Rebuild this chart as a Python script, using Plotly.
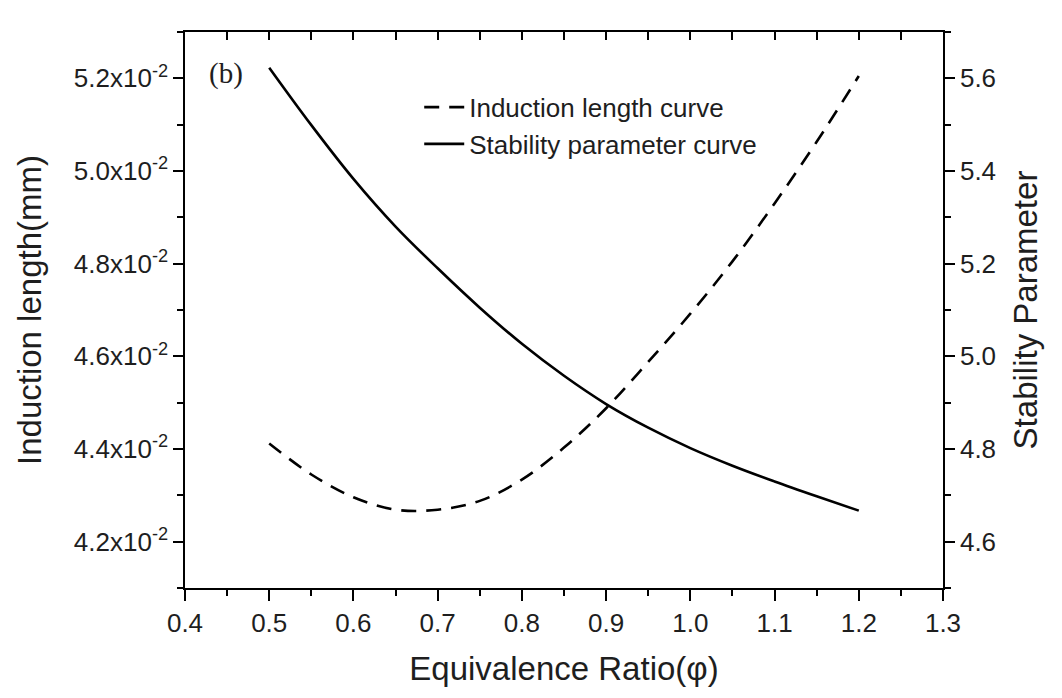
import plotly.graph_objects as go

# ---- data ----
phi = [0.50, 0.55, 0.60, 0.65, 0.70, 0.75, 0.80, 0.85, 0.90, 0.95, 1.00, 1.05, 1.10, 1.15, 1.20]
induction_length = [0.04412, 0.04345, 0.04296, 0.04269, 0.04269, 0.04288, 0.04334, 0.04403,
                    0.04488, 0.04588, 0.04692, 0.04805, 0.04930, 0.05063, 0.05205]
stability_param = [5.623, 5.499, 5.383, 5.280, 5.190, 5.105, 5.027, 4.958,
                   4.897, 4.846, 4.802, 4.764, 4.730, 4.698, 4.667]

left_tickvals = [0.042, 0.044, 0.046, 0.048, 0.050, 0.052]
left_ticktext = ["4.2x10<sup>-2</sup>", "4.4x10<sup>-2</sup>", "4.6x10<sup>-2</sup>",
                 "4.8x10<sup>-2</sup>", "5.0x10<sup>-2</sup>", "5.2x10<sup>-2</sup>"]

FONT = "Liberation Sans, Arial, sans-serif"
TXT = "#1e1e1e"

fig = go.Figure()
fig.add_trace(go.Scatter(
    x=phi, y=induction_length, mode="lines", name="Induction length curve",
    line=dict(color="black", width=2.6, dash="15px,10px", shape="spline", smoothing=1.0), yaxis="y"))
fig.add_trace(go.Scatter(
    x=phi, y=stability_param, mode="lines", name="Stability parameter curve",
    line=dict(color="black", width=2.6, shape="spline", smoothing=1.0), yaxis="y2"))
# invisible trace to register the top (mirror) axis
fig.add_trace(go.Scatter(
    x=phi, y=induction_length, mode="lines", xaxis="x2", yaxis="y",
    line=dict(width=0), opacity=0, showlegend=False, hoverinfo="skip"))

axis_common = dict(showline=True, linecolor="black", linewidth=1.5, showgrid=False,
                   zeroline=False, tickcolor="black", tickwidth=1.5, automargin=False,
                   tickfont=dict(family=FONT, size=26, color=TXT))

# the page body adds an 8px offset, so the figure is made 8px smaller on each side
fig.update_layout(
    width=1054, height=690,
    margin=dict(l=177, r=119, t=24, b=110),
    paper_bgcolor="white", plot_bgcolor="white",
    font=dict(family=FONT, color=TXT),
    xaxis=dict(range=[0.4, 1.3], tickmode="linear", tick0=0.4, dtick=0.1, tickformat=".1f",
               ticks="outside", ticklen=11,
               minor=dict(ticks="outside", ticklen=6, tick0=0.4, dtick=0.05, tickcolor="black", tickwidth=1.5),
               title=dict(text="Equivalence Ratio(φ)", font=dict(family=FONT, size=33, color=TXT), standoff=20),
               **axis_common),
    xaxis2=dict(range=[0.4, 1.3], overlaying="x", side="top", tickmode="linear", tick0=0.4, dtick=0.1,
                ticks="inside", ticklen=8, showticklabels=False, automargin=False,
                minor=dict(ticks="inside", ticklen=8, tick0=0.4, dtick=0.05, tickcolor="black", tickwidth=1.5),
                showline=True, linecolor="black", linewidth=1.5, showgrid=False, zeroline=False,
                tickcolor="black", tickwidth=1.5),
    yaxis=dict(range=[0.041, 0.053], tickmode="array", tickvals=left_tickvals, ticktext=left_ticktext,
               ticks="outside", ticklen=10,
               minor=dict(ticks="outside", ticklen=6, tickmode="linear", tick0=0.041, dtick=0.001,
                          tickcolor="black", tickwidth=1.5),
               title=dict(text="Induction length(mm)", font=dict(family=FONT, size=33, color=TXT), standoff=22),
               **axis_common),
    yaxis2=dict(range=[4.5, 5.7], overlaying="y", side="right", tickmode="linear", tick0=4.6, dtick=0.2,
                tickformat=".1f", ticks="outside", ticklen=10,
                minor=dict(ticks="outside", ticklen=6, tick0=4.5, dtick=0.1, tickcolor="black", tickwidth=1.5),
                title=dict(text="Stability Parameter", font=dict(family=FONT, size=33, color=TXT), standoff=19),
                **axis_common),
    legend=dict(x=0.309, y=0.907, xanchor="left", yanchor="top", bgcolor="rgba(0,0,0,0)",
                font=dict(family=FONT, size=26, color=TXT), tracegroupgap=0, itemwidth=40),
    showlegend=True,
)

fig.add_annotation(x=0.029, y=0.925, xref="paper", yref="paper", xanchor="left", yanchor="middle",
                   text="(b)", showarrow=False,
                   font=dict(family="Liberation Serif, Times New Roman, serif", size=29, color=TXT))

fig.write_html("out.html")
